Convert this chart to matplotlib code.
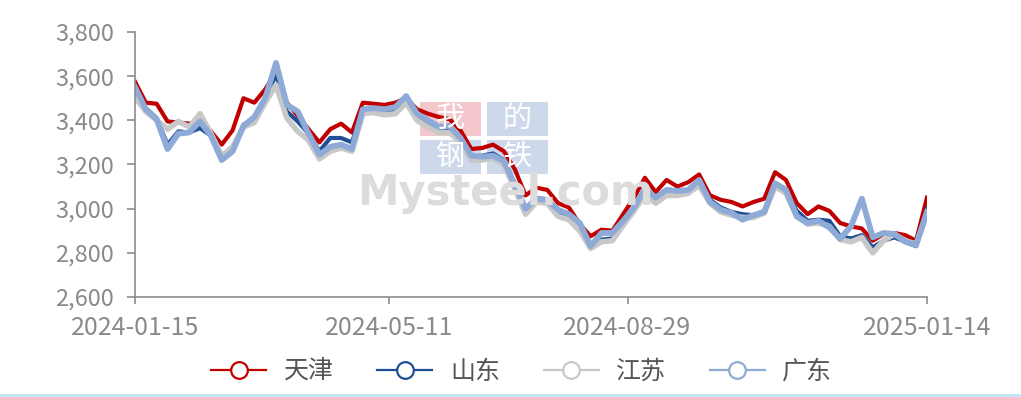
import matplotlib
matplotlib.use("Agg")
import matplotlib.pyplot as plt
from matplotlib.lines import Line2D
from matplotlib.patches import Rectangle
from matplotlib.ticker import FuncFormatter
import pandas as pd

plt.rcParams['font.family'] = ['Noto Sans CJK SC', 'DejaVu Sans']

# price samples every 5 days
dates = pd.date_range('2024-01-15', periods=74, freq='5D')

tianjin = [3575, 3480, 3475, 3395, 3390, 3385, 3395, 3350, 3290, 3355,
           3500, 3480, 3540, 3620, 3480, 3420, 3360, 3300, 3360, 3385,
           3345, 3480, 3475, 3470, 3480, 3500, 3450, 3430, 3415, 3405,
           3355, 3270, 3275, 3290, 3260, 3180, 3060, 3095, 3085, 3025,
           3005, 2930, 2875, 2905, 2900, 2975, 3050, 3140, 3075, 3130,
           3100, 3120, 3155, 3060, 3040, 3030, 3010, 3030, 3045, 3165,
           3130, 3025, 2975, 3010, 2990, 2935, 2920, 2910, 2855, 2885,
           2890, 2880, 2855, 3050]
shandong = [3525, 3455, 3410, 3290, 3350, 3345, 3365, 3330, 3225, 3265,
            3380, 3410, 3490, 3610, 3440, 3395, 3340, 3260, 3320, 3320,
            3300, 3450, 3455, 3435, 3440, 3490, 3415, 3385, 3360, 3355,
            3315, 3235, 3240, 3250, 3220, 3110, 2985, 3050, 3040, 2985,
            2965, 2910, 2840, 2860, 2865, 2935, 3000, 3075, 3030, 3060,
            3070, 3080, 3120, 3040, 3005, 2985, 2975, 2970, 2990, 3115,
            3080, 2990, 2945, 2950, 2945, 2875, 2865, 2880, 2825, 2855,
            2870, 2850, 2830, 3000]
jiangsu = [3505, 3440, 3400, 3360, 3395, 3370, 3430, 3340, 3240, 3280,
           3370, 3390, 3480, 3560, 3410, 3350, 3310, 3225, 3260, 3275,
           3260, 3430, 3435, 3425, 3430, 3480, 3400, 3370, 3345, 3345,
           3300, 3220, 3220, 3230, 3200, 3090, 2975, 3030, 3025, 2965,
           2950, 2900, 2820, 2850, 2855, 2925, 2990, 3065, 3025, 3060,
           3060, 3070, 3105, 3025, 2985, 2970, 2960, 2960, 2980, 3100,
           3070, 2965, 2930, 2935, 2920, 2860, 2850, 2870, 2800, 2855,
           2885, 2855, 2840, 2975]
guangdong = [3550, 3450, 3405, 3270, 3340, 3345, 3395, 3330, 3220, 3260,
             3375, 3415, 3500, 3660, 3470, 3440, 3340, 3245, 3280, 3290,
             3270, 3450, 3455, 3450, 3460, 3510, 3430, 3400, 3370, 3375,
             3320, 3240, 3235, 3240, 3215, 3110, 3000, 3045, 3040, 2995,
             2975, 2935, 2830, 2890, 2890, 2945, 3005, 3090, 3050, 3085,
             3080, 3085, 3130, 3030, 2995, 2980, 2950, 2970, 2985, 3115,
             3085, 2965, 2935, 2945, 2915, 2865, 2920, 3045, 2870, 2890,
             2885, 2850, 2835, 2985]

names = ['天津', '山东', '江苏', '广东']
colors = ['#c00000', '#1f4e96', '#c8c8c8', '#8eaad6']
widths = [3.0, 3.0, 4.0, 4.2]
tick_dates = ['2024-01-15', '2024-05-11', '2024-08-29', '2025-01-14']

fig = plt.figure(figsize=(10.21, 3.97), dpi=100)
ax = fig.add_axes([0.1322, 0.2519, 0.7757, 0.6675])
ax.patch.set_alpha(0)

# watermark (pixel boxes converted to figure fractions)
W, H = 1021, 397
tiles = [('我', 420, 102, '#f3c7cb'), ('的', 487, 102, '#cdd8ea'),
         ('钢', 420, 140, '#cdd8ea'), ('铁', 487, 140, '#cdd8ea')]
for ch, px, py, bg in tiles:
    fig.add_artist(Rectangle((px / W, 1 - (py + 34) / H), 61 / W, 34 / H,
                             transform=fig.transFigure, fc=bg, ec='none', zorder=0))
    fig.text((px + 30) / W, 1 - (py + 17) / H, ch, fontsize=21, color='white',
             ha='center', va='center', zorder=0)
fig.text(505 / W, 1 - 193 / H, 'Mysteel.com', fontsize=30, fontweight='bold',
         color='#dcdcdc', family='DejaVu Sans', ha='center', va='center', zorder=0)

series = [tianjin, shandong, jiangsu, guangdong]
for vals, name, c, w in zip(series, names, colors, widths):
    ax.plot(dates, vals, color=c, lw=w, label=name, solid_joinstyle='round')

ax.set_ylim(2600, 3800)
ax.set_yticks(range(2600, 3801, 200))
ax.yaxis.set_major_formatter(FuncFormatter(lambda v, p: f'{int(v):,}'))
ax.set_xlim(pd.Timestamp('2024-01-15'), pd.Timestamp('2025-01-14'))
ax.set_xticks([pd.Timestamp(d) for d in tick_dates])
ax.set_xticklabels(tick_dates)

for s in ['top', 'right']:
    ax.spines[s].set_visible(False)
for s in ['left', 'bottom']:
    ax.spines[s].set_color('#8c8c8c')
    ax.spines[s].set_linewidth(1.2)
ax.tick_params(axis='y', colors='#8c8c8c', labelcolor='#8a8a8a', labelsize=17,
               length=6, width=1.2, pad=9)
ax.tick_params(axis='x', colors='#8c8c8c', labelcolor='#8a8a8a', labelsize=18,
               length=5, width=1.2, pad=8)

handles = [Line2D([], [], color=c, lw=1.6, marker='o', ms=12, mfc='white',
                  mec=c, mew=1.6) for c in colors]
fig.legend(handles, names, loc='center', bbox_to_anchor=(0.511, 0.063), ncol=4,
           frameon=False, fontsize=18, handlelength=2.2, handletextpad=0.7,
           columnspacing=1.75, labelcolor='#555555')

fig.add_artist(Line2D([0, 1], [0.004, 0.004], color='#bfe6f7', lw=2,
                      transform=fig.transFigure))

fig.savefig('out.png', dpi=100)
